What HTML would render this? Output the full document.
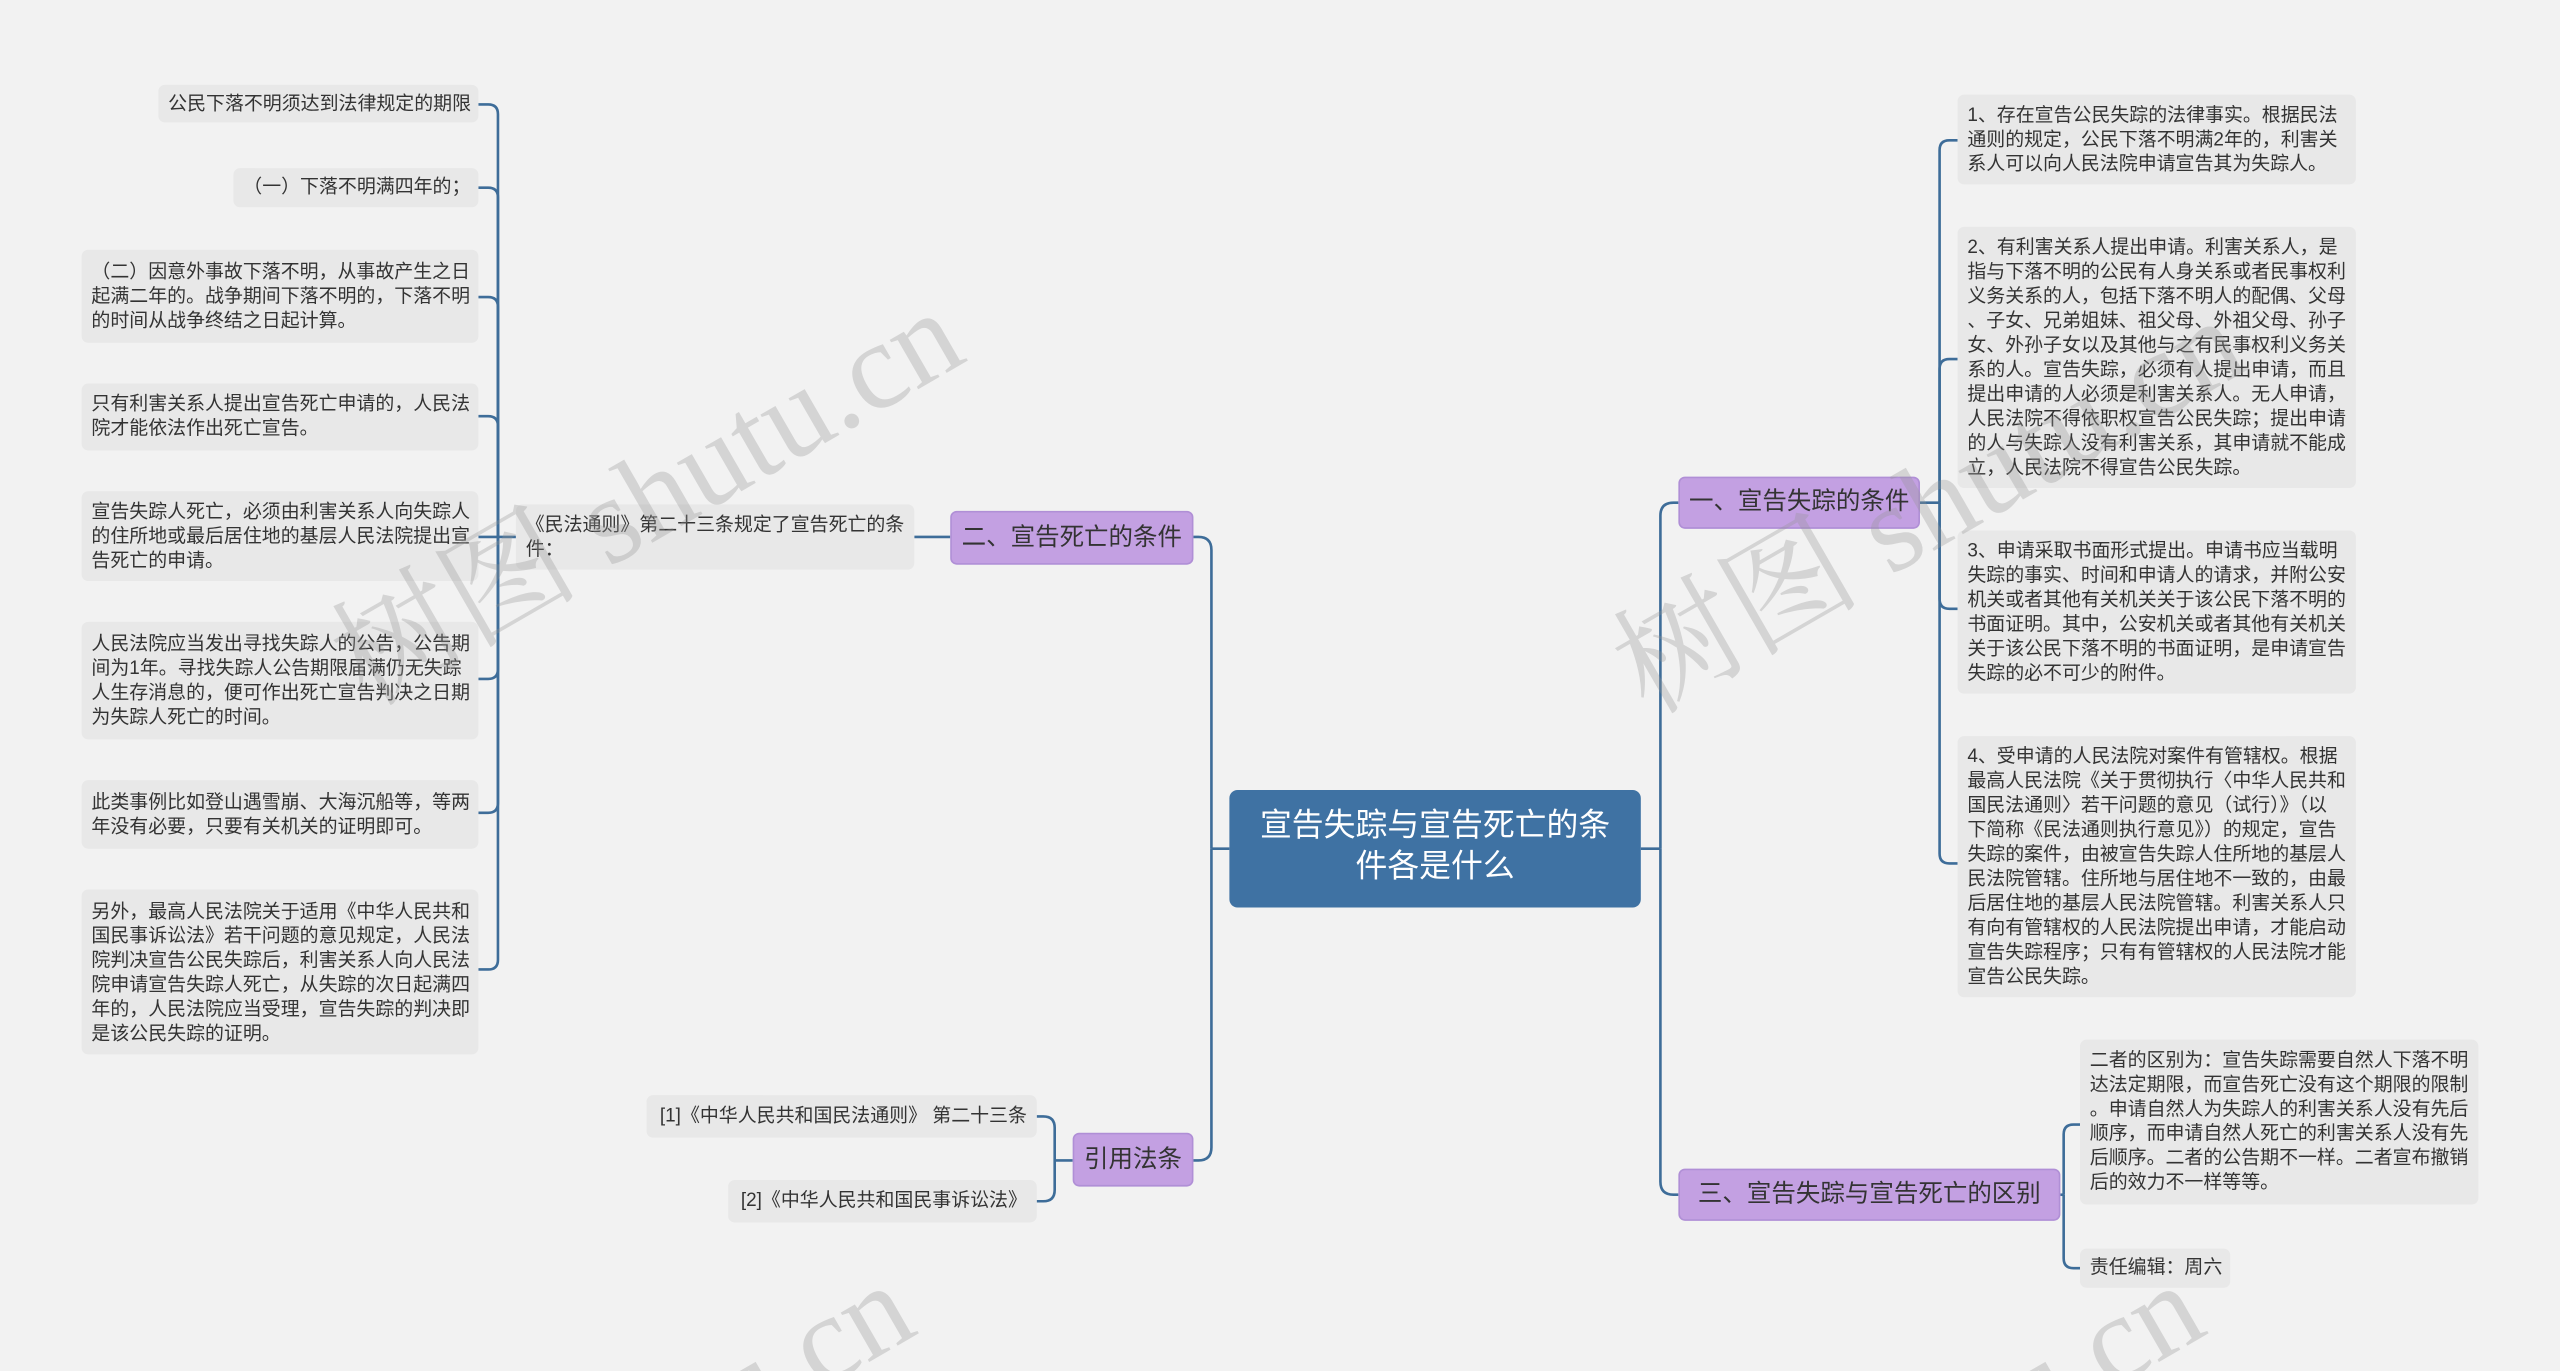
<!DOCTYPE html>
<html><head><meta charset="utf-8">
<style>
html,body{margin:0;padding:0;background:#f2f2f2;overflow:hidden;width:2560px;height:1371px;}
#clip{position:absolute;left:0;top:0;width:2560px;height:1371px;overflow:hidden;}
#w{position:absolute;left:0;top:0;width:1568px;height:840px;overflow:hidden;transform:scale(1.63265,1.63214);transform-origin:0 0;font-family:"Liberation Sans","Noto Sans CJK SC",sans-serif;}
.n{position:absolute;box-sizing:border-box;white-space:nowrap;}
.l{background:#e8e8e8;border-radius:4px;font-size:11.6px;line-height:15px;color:#333;padding:6px 6px;}
.p{background:#c3a0e2;border:1px solid #b08fd6;border-radius:4px;font-size:15px;color:#333;text-align:center;}
.wm{position:absolute;font-family:"Liberation Serif","Noto Serif CJK SC",serif;color:rgba(150,150,150,0.32);font-size:76px;line-height:76px;transform:rotate(-30deg);transform-origin:0 0;white-space:nowrap;}
</style></head><body><div id="clip"><div id="w">

<svg width="1568" height="840" style="position:absolute;left:0;top:0" fill="none" stroke="#3e6d99" stroke-width="1.6">
<path d="M305 329 L305 70 Q305 64 299 64 L293 64"/>
<path d="M305 329 L305 121 Q305 115 299 115 L293 115"/>
<path d="M305 329 L305 188 Q305 182 299 182 L293 182"/>
<path d="M305 329 L305 261 Q305 255 299 255 L293 255"/>
<path d="M293 329 L316 329"/>
<path d="M305 329 L305 410 Q305 416 299 416 L293 416"/>
<path d="M305 329 L305 492 Q305 498 299 498 L293 498"/>
<path d="M305 329 L305 588 Q305 594 299 594 L293 594"/>
<path d="M560 329 L582 329"/>
<path d="M753 520 L742 520"/>
<path d="M742 520 L742 337 Q742 329 734 329 L731 329"/>
<path d="M742 520 L742 703 Q742 711 734 711 L731 711"/>
<path d="M657 711 L646 711"/>
<path d="M646 711 L646 691 Q646 684 639 684 L635 684"/>
<path d="M646 711 L646 729 Q646 736 639 736 L635 736"/>
<path d="M1005 520 L1017 520"/>
<path d="M1017 520 L1017 316 Q1017 308 1025 308 L1028 308"/>
<path d="M1017 520 L1017 724 Q1017 732 1025 732 L1028 732"/>
<path d="M1176 308 L1188 308"/>
<path d="M1188 308 L1188 92 Q1188 86 1194 86 L1199 86"/>
<path d="M1188 308 L1188 226 Q1188 220 1194 220 L1199 220"/>
<path d="M1188 308 L1188 367 Q1188 373 1194 373 L1199 373"/>
<path d="M1188 308 L1188 523 Q1188 529 1194 529 L1199 529"/>
<path d="M1262 732 L1264 732"/>
<path d="M1264 732 L1264 695 Q1264 689 1270 689 L1274 689"/>
<path d="M1264 732 L1264 771 Q1264 777 1270 777 L1274 777"/>
</svg>

<div class="n" style="left:753px;top:484px;width:252px;height:72px;background:#3f72a3;border-radius:5px;color:#fff;font-size:19.5px;line-height:25px;text-align:center;padding-top:10px;">宣告失踪与宣告死亡的条<br>件各是什么</div>

<div class="n p" style="left:582px;top:313px;width:149px;height:33px;line-height:31px;">二、宣告死亡的条件</div>
<div class="n p" style="left:657px;top:694px;width:74px;height:33px;line-height:31px;">引用法条</div>
<div class="n p" style="left:1028px;top:292px;width:148px;height:32px;line-height:30px;">一、宣告失踪的条件</div>
<div class="n p" style="left:1028px;top:716px;width:234px;height:32px;line-height:30px;">三、宣告失踪与宣告死亡的区别</div>

<div class="n l" style="left:316px;top:309px;width:244px;height:40px;padding-top:5px;">《民法通则》第二十三条规定了宣告死亡的条<br>件：</div>

<div class="n l" style="left:97px;top:52px;width:196px;height:23px;padding-top:4px;text-align:right;">公民下落不明须达到法律规定的期限</div>
<div class="n l" style="left:143px;top:103px;width:150px;height:24px;padding-top:4px;text-align:right;">（一）下落不明满四年的；</div>
<div class="n l" style="left:50px;top:153px;width:243px;height:57px;">（二）因意外事故下落不明，从事故产生之日<br>起满二年的。战争期间下落不明的，下落不明<br>的时间从战争终结之日起计算。</div>
<div class="n l" style="left:50px;top:235px;width:243px;height:41px;padding-top:5px;">只有利害关系人提出宣告死亡申请的，人民法<br>院才能依法作出死亡宣告。</div>
<div class="n l" style="left:50px;top:301px;width:243px;height:55px;padding-top:5px;">宣告失踪人死亡，必须由利害关系人向失踪人<br>的住所地或最后居住地的基层人民法院提出宣<br>告死亡的申请。</div>
<div class="n l" style="left:50px;top:381px;width:243px;height:72px;">人民法院应当发出寻找失踪人的公告，公告期<br>间为1年。寻找失踪人公告期限届满仍无失踪<br>人生存消息的，便可作出死亡宣告判决之日期<br>为失踪人死亡的时间。</div>
<div class="n l" style="left:50px;top:478px;width:243px;height:42px;">此类事例比如登山遇雪崩、大海沉船等，等两<br>年没有必要，只要有关机关的证明即可。</div>
<div class="n l" style="left:50px;top:545px;width:243px;height:101px;padding-top:6px;">另外，最高人民法院关于适用《中华人民共和<br>国民事诉讼法》若干问题的意见规定，人民法<br>院判决宣告公民失踪后，利害关系人向人民法<br>院申请宣告失踪人死亡，从失踪的次日起满四<br>年的，人民法院应当受理，宣告失踪的判决即<br>是该公民失踪的证明。</div>

<div class="n l" style="left:396px;top:671px;width:239px;height:26px;padding-top:5px;text-align:right;">[1]《中华人民共和国民法通则》 第二十三条</div>
<div class="n l" style="left:446px;top:723px;width:189px;height:26px;padding-top:5px;text-align:right;">[2]《中华人民共和国民事诉讼法》</div>

<div class="n l" style="left:1199px;top:58px;width:244px;height:55px;padding-top:5px;">1、存在宣告公民失踪的法律事实。根据民法<br>通则的规定，公民下落不明满2年的，利害关<br>系人可以向人民法院申请宣告其为失踪人。</div>
<div class="n l" style="left:1199px;top:139px;width:244px;height:160px;padding-top:5px;">2、有利害关系人提出申请。利害关系人，是<br>指与下落不明的公民有人身关系或者民事权利<br>义务关系的人，包括下落不明人的配偶、父母<br>、子女、兄弟姐妹、祖父母、外祖父母、孙子<br>女、外孙子女以及其他与之有民事权利义务关<br>系的人。宣告失踪，必须有人提出申请，而且<br>提出申请的人必须是利害关系人。无人申请，<br>人民法院不得依职权宣告公民失踪；提出申请<br>的人与失踪人没有利害关系，其申请就不能成<br>立，人民法院不得宣告公民失踪。</div>
<div class="n l" style="left:1199px;top:325px;width:244px;height:100px;padding-top:5px;">3、申请采取书面形式提出。申请书应当载明<br>失踪的事实、时间和申请人的请求，并附公安<br>机关或者其他有关机关关于该公民下落不明的<br>书面证明。其中，公安机关或者其他有关机关<br>关于该公民下落不明的书面证明，是申请宣告<br>失踪的必不可少的附件。</div>
<div class="n l" style="left:1199px;top:451px;width:244px;height:160px;padding-top:5px;">4、受申请的人民法院对案件有管辖权。根据<br>最高人民法院《关于贯彻执行〈中华人民共和<br>国民法通则〉若干问题的意见（试行）》（以<br>下简称《民法通则执行意见》）的规定，宣告<br>失踪的案件，由被宣告失踪人住所地的基层人<br>民法院管辖。住所地与居住地不一致的，由最<br>后居住地的基层人民法院管辖。利害关系人只<br>有向有管辖权的人民法院提出申请，才能启动<br>宣告失踪程序；只有有管辖权的人民法院才能<br>宣告公民失踪。</div>

<div class="n l" style="left:1274px;top:637px;width:244px;height:101px;padding-top:5px;">二者的区别为：宣告失踪需要自然人下落不明<br>达法定期限，而宣告死亡没有这个期限的限制<br>。申请自然人为失踪人的利害关系人没有先后<br>顺序，而申请自然人死亡的利害关系人没有先<br>后顺序。二者的公告期不一样。二者宣布撤销<br>后的效力不一样等等。</div>
<div class="n l" style="left:1274px;top:765px;width:92px;height:24px;padding-top:4px;">责任编辑：周六</div>

<div class="wm" style="left:193px;top:379px">树图 shutu.cn</div>
<div class="wm" style="left:978px;top:384px">树图 shutu.cn</div>
<div class="wm" style="left:163px;top:975px">树图 shutu.cn</div>
<div class="wm" style="left:953px;top:975px">树图 shutu.cn</div>
</div></div></body></html>
